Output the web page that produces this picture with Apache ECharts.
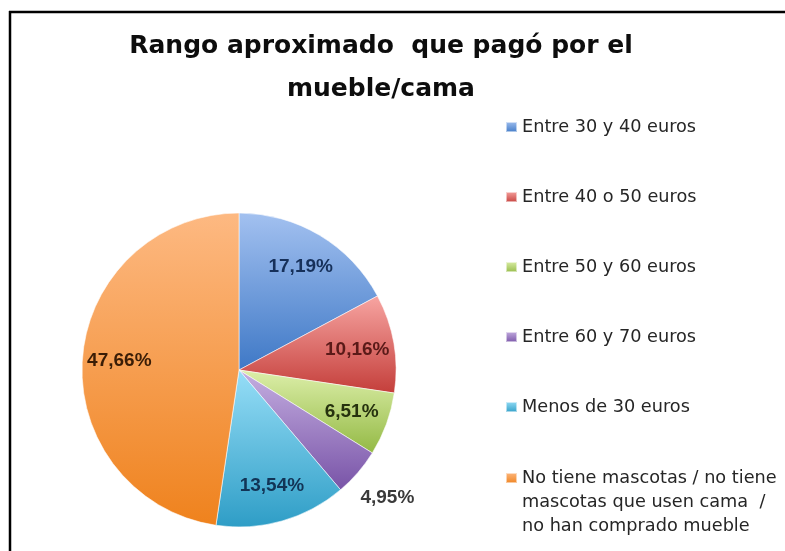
<!DOCTYPE html>
<html>
<head>
<meta charset="utf-8">
<script src="https://cdn.jsdelivr.net/npm/echarts@6/dist/echarts.min.js"></script>
<style>
html,body{margin:0;padding:0;background:#fff;}
#chart{width:785px;height:551px;}
</style>
</head>
<body>
<div id="chart"></div>
<script>
// ---- data ----
const titleLines = ['Rango aproximado  que pagó por el', 'mueble/cama'];
const categories = [
  'Entre 30 y 40 euros',
  'Entre 40 o 50 euros',
  'Entre 50 y 60 euros',
  'Entre 60 y 70 euros',
  'Menos de 30 euros',
  'No tiene mascotas / no tiene\nmascotas que usen cama  /\nno han comprado mueble'
];
const values = [17.19, 10.16, 6.51, 4.95, 13.54, 47.66];

// ---- styles ----
const sliceColors = [
  ['#A3C1F0', '#3E78C6'],
  ['#F7A5A2', '#C43E3A'],
  ['#DDEFAA', '#93B944'],
  ['#C5AFE1', '#7853A7'],
  ['#97DEF7', '#2E9DC6'],
  ['#FDB982', '#EF821D']
];
const labelColors = ['#16305A', '#5A1A18', '#26320E', '#3A3A3A', '#123456', '#3A1D06'];
const outsideIdx = 3;
const center = [239, 370];
const R = 157;

function grad(c) {
  return new echarts.graphic.LinearGradient(0, 0, 0, 1, [
    {offset: 0, color: c[0]}, {offset: 1, color: c[1]}
  ]);
}
function fmt(v) { return v.toFixed(2).replace('.', ',') + '%'; }

const labelFont = {fontFamily: '"Liberation Sans", Arial, sans-serif', fontWeight: 'bold', fontSize: 19};

const mainData = categories.map((n, i) => ({
  name: n, value: values[i],
  itemStyle: {color: grad(sliceColors[i])}
}));
const innerLabelData = categories.map((n, i) => ({
  name: n, value: values[i],
  label: Object.assign({show: i !== outsideIdx, color: labelColors[i]}, labelFont)
}));
const outerLabelData = categories.map((n, i) => ({
  name: n, value: values[i],
  label: Object.assign({show: i === outsideIdx, color: labelColors[i]}, labelFont)
}));

const legendText = {fontFamily: '"DejaVu Sans", sans-serif', fontSize: 17.7, color: '#262626', lineHeight: 24};

const chart = echarts.init(document.getElementById('chart'), null, {renderer: 'canvas'});
chart.setOption({
  animation: false,
  backgroundColor: '#fff',
  title: {
    text: titleLines.join('\n'), left: 381, top: 25, padding: 0, textAlign: 'center',
    textStyle: {fontFamily: '"DejaVu Sans", sans-serif', fontWeight: 'bold', fontSize: 25,
                lineHeight: 43, color: '#0d0d0d'}
  },
  legend: [
    {orient: 'vertical', left: 505, top: 115, padding: 0, itemGap: 46,
     itemWidth: 11, itemHeight: 10, icon: 'rect', selectedMode: false,
     data: categories.slice(0, 5), textStyle: legendText},
    {orient: 'vertical', left: 505, top: 418, padding: 0,
     itemWidth: 11, itemHeight: 10, icon: 'rect', selectedMode: false,
     data: categories.slice(5),
     formatter: name => '\n\n' + name,
     textStyle: legendText}
  ],
  graphic: [
    {type: 'line', shape: {x1: 9, y1: 12, x2: 785, y2: 12}, style: {stroke: '#000', lineWidth: 2.5}},
    {type: 'line', shape: {x1: 10, y1: 11, x2: 10, y2: 551}, style: {stroke: '#000', lineWidth: 2.5}}
  ],
  series: [
    {type: 'pie', center: center, radius: [0, R], startAngle: 90, clockwise: true,
     silent: true, label: {show: false}, labelLine: {show: false},
     itemStyle: {borderColor: 'rgba(255,255,255,0.55)', borderWidth: 1},
     emphasis: {disabled: true}, data: mainData},
    {type: 'pie', center: center, radius: [0, 234], startAngle: 90, clockwise: true,
     silent: true, labelLine: {show: false},
     itemStyle: {color: 'transparent', borderWidth: 0},
     emphasis: {disabled: true},
     label: Object.assign({position: 'inside', formatter: p => fmt(p.value)}, labelFont),
     data: innerLabelData},
    {type: 'pie', center: center, radius: [R, 229], startAngle: 90, clockwise: true,
     silent: true, labelLine: {show: false},
     itemStyle: {color: 'transparent', borderWidth: 0},
     emphasis: {disabled: true},
     label: Object.assign({position: 'inside', formatter: p => fmt(p.value)}, labelFont),
     data: outerLabelData}
  ]
});
</script>
</body>
</html>
